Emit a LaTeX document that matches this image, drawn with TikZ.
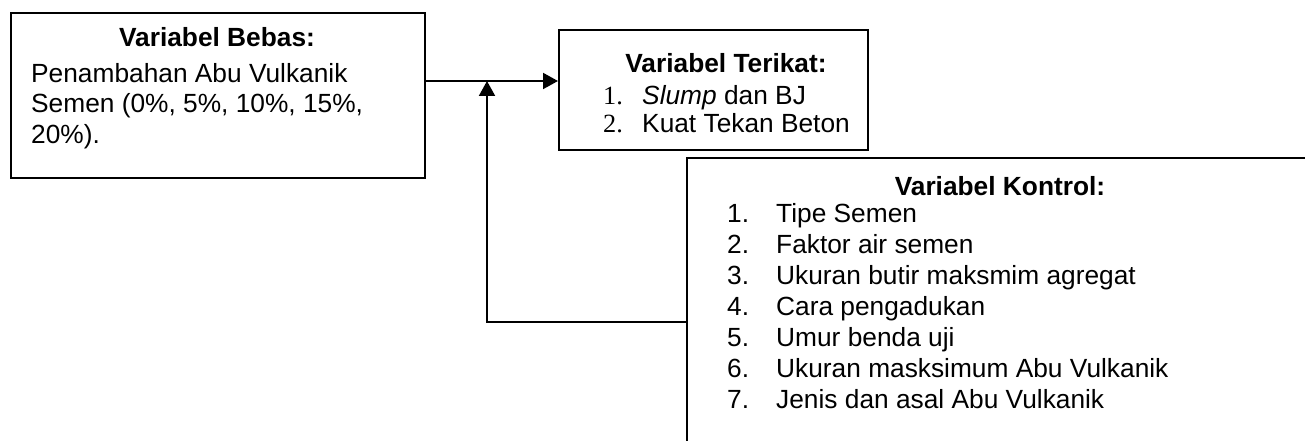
\documentclass[tikz,border=0pt]{standalone}
\usepackage{fontspec}
\setmainfont{Liberation Sans}
\newfontfamily\timesnum{Liberation Serif}
\usetikzlibrary{arrows.meta}

\begin{document}
\begin{tikzpicture}[x=1pt,y=-1pt,
    box/.style={draw,line width=2pt,anchor=north west,inner sep=0pt},
    txt/.style={anchor=base west,inner sep=0pt,font=\fontsize{26.3}{30}\selectfont},
    head/.style={anchor=base,inner sep=0pt,font=\fontsize{26.3}{30}\selectfont\bfseries},
    arr/.style={line width=2pt,-{Triangle[length=15pt,width=16pt]}}]

            \useasboundingbox (0,0) rectangle (1305,441);
            \clip (0,0) rectangle (1305,441);

            \node[box,minimum width=414pt,minimum height=165pt] (bebas) at (10,12) {};
            \node[box,minimum width=309pt,minimum height=120pt] (terikat) at (558,29) {};
            \node[box,minimum width=700pt,minimum height=328pt] (kontrol) at (686,157) {};

            \node[head] (bebasHead) at (217,47) {Variabel Bebas:};
            \node[txt] (b1) at (31,83) {Penambahan Abu Vulkanik};
            \node[txt] (b2) at (31,113) {Semen (0\%, 5\%, 10\%, 15\%,};
            \node[txt] (b3) at (31,143) {20\%).};

            \node[head] (terikatHead) at (726,73) {Variabel Terikat:};
            \node[txt] (t1n) at (603,105) {\timesnum 1.};
            \node[txt] (t1) at (642,105) {\itshape Slump\upshape{} dan BJ};
            \node[txt] (t2n) at (603,132) {\timesnum 2.};
            \node[txt] (t2) at (642,132) {Kuat Tekan Beton};

            \node[head] (kontrolHead) at (1000,195) {Variabel Kontrol:};
            \node[txt] (k1n) at (727,222) {1.};
            \node[txt] (k1) at (776,222) {Tipe Semen};
            \node[txt] (k2n) at (727,253) {2.};
            \node[txt] (k2) at (776,253) {Faktor air semen};
            \node[txt] (k3n) at (727,284) {3.};
            \node[txt] (k3) at (776,284) {Ukuran butir maksmim agregat};
            \node[txt] (k4n) at (727,315) {4.};
            \node[txt] (k4) at (776,315) {Cara pengadukan};
            \node[txt] (k5n) at (727,346) {5.};
            \node[txt] (k5) at (776,346) {Umur benda uji};
            \node[txt] (k6n) at (727,377) {6.};
            \node[txt] (k6) at (776,377) {Ukuran masksimum Abu Vulkanik};
            \node[txt] (k7n) at (727,408) {7.};
            \node[txt] (k7) at (776,408) {Jenis dan asal Abu Vulkanik};

            \coordinate (m) at (487,81);

            \draw[arr] (bebas.east |- m) to (terikat.west |- m);
            \draw[arr] (kontrol.west) -| (m);
        \end{tikzpicture}
\end{document}
